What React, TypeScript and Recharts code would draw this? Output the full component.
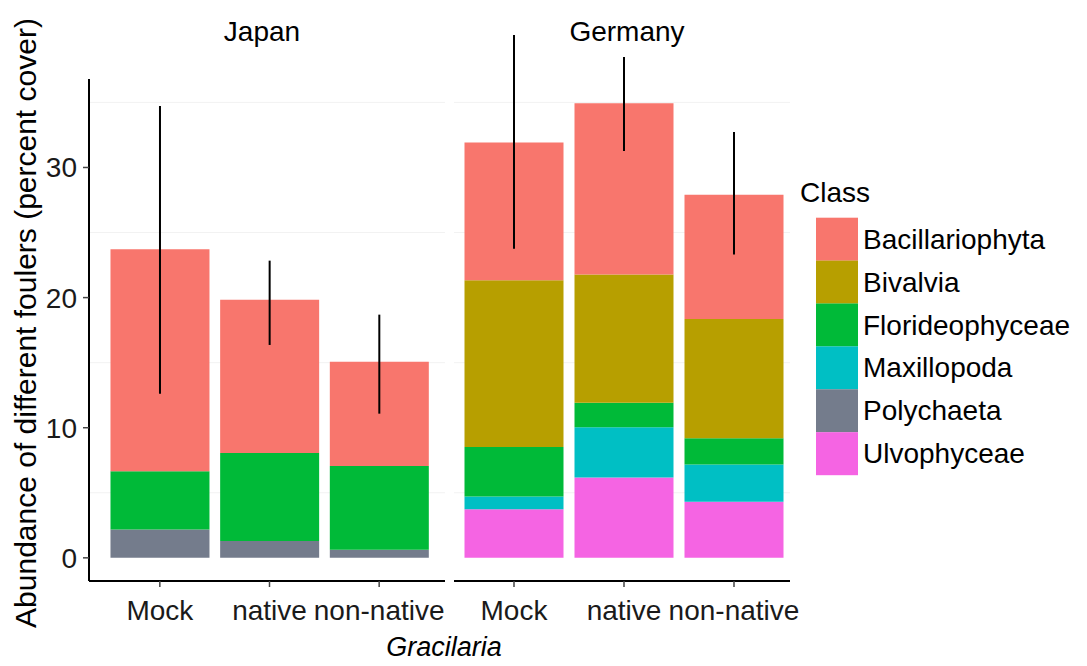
import { BarChart, Bar, XAxis, YAxis, CartesianGrid, ErrorBar } from 'recharts';

const classes = ['Bacillariophyta', 'Bivalvia', 'Florideophyceae', 'Maxillopoda', 'Polychaeta', 'Ulvophyceae'];
const classColors = ['#F8766D', '#B79F00', '#00BA38', '#00BFC4', '#747C8C', '#F564E3'];
const treatments = ['Mock', 'native', 'non-native'];

// cover per class (same order as classes), one value per treatment
const japanCover = [
  [17.05, 11.77, 8.01],
  [0, 0, 0],
  [4.49, 6.76, 6.43],
  [0, 0, 0],
  [2.17, 1.3, 0.63],
  [0, 0, 0],
];
const japanErrLow = [11.1, 3.47, 3.99];
const japanErrHigh = [11.02, 3.01, 3.62];

const germanyCover = [
  [10.59, 13.16, 9.56],
  [12.81, 9.85, 9.16],
  [3.8, 1.88, 2.01],
  [0.99, 3.86, 2.87],
  [0, 0, 0],
  [3.73, 6.18, 4.31],
];
const germanyErrLow = [8.16, 3.66, 4.59];
const germanyErrHigh = [8.27, 3.56, 4.82];

const yTicks = [0, 10, 20, 30];
const minorGrid = [5, 15, 25, 35];

const FONT = '"Liberation Sans", Arial, Helvetica, sans-serif';

function buildRows(cover: number[][], low: number[], high: number[]) {
  return treatments.map((t, i) => {
    const row: Record<string, any> = { treatment: t, err: [low[i], high[i]] };
    classes.forEach((c, k) => {
      row[c] = cover[k][i];
    });
    return row;
  });
}

const japanRows = buildRows(japanCover, japanErrLow, japanErrHigh);
const germanyRows = buildRows(germanyCover, germanyErrLow, germanyErrHigh);

// bottom of the stack first
const stackOrder = [...classes].reverse();

function renderBars() {
  return stackOrder.map((c) => {
    const color = classColors[classes.indexOf(c)];
    return (
      <Bar key={c} dataKey={c} stackId="a" fill={color} isAnimationActive={false}>
        {c === 'Bacillariophyta' && (
          <ErrorBar dataKey="err" width={0} stroke="#000" strokeWidth={2} direction="y" />
        )}
      </Bar>
    );
  });
}

const tickStyle = { fill: '#1a1a1a', fontSize: 28, fontFamily: FONT };

export default function App() {
  return (
    <div style={{ position: 'absolute', left: 0, top: 0, width: 1087, height: 666, background: '#fff', fontFamily: FONT }}>
      <div style={{ position: 'absolute', left: 0, top: 0 }}>
        <BarChart width={455} height={666} data={japanRows} margin={{ top: 79, right: 10, bottom: 0, left: 0 }} barCategoryGap="5%">
          <CartesianGrid vertical={false} horizontalValues={minorGrid} stroke="#f2f2f2" />
          <XAxis
            dataKey="treatment"
            height={85}
            interval={0}
            padding={{ left: 16, right: 11 }}
            axisLine={{ stroke: '#000', strokeWidth: 2 }}
            tickLine={{ stroke: '#444', strokeWidth: 1.5 }}
            tickSize={6}
            tickMargin={13}
            tick={tickStyle}
          />
          <YAxis
            type="number"
            width={89}
            domain={[-1.78, 36.8]}
            allowDataOverflow
            ticks={yTicks}
            axisLine={{ stroke: '#000', strokeWidth: 2 }}
            tickLine={{ stroke: '#444', strokeWidth: 1.5 }}
            tickSize={6}
            tickMargin={6}
            tick={tickStyle}
          />
          {renderBars()}
        </BarChart>
      </div>
      <div style={{ position: 'absolute', left: 0, top: 0 }}>
        <BarChart width={800} height={666} data={germanyRows} margin={{ top: 28, right: 10, bottom: 0, left: 454 }} barCategoryGap="5%">
          <CartesianGrid vertical={false} horizontalValues={minorGrid} stroke="#f2f2f2" />
          <XAxis
            dataKey="treatment"
            height={85}
            interval={0}
            padding={{ left: 5, right: 1 }}
            axisLine={{ stroke: '#000', strokeWidth: 2 }}
            tickLine={{ stroke: '#444', strokeWidth: 1.5 }}
            tickSize={6}
            tickMargin={13}
            tick={tickStyle}
          />
          <YAxis type="number" hide domain={[-1.78, 40.72]} allowDataOverflow ticks={yTicks} />
          {renderBars()}
        </BarChart>
      </div>
      <svg width={1087} height={666} style={{ position: 'absolute', left: 0, top: 0, pointerEvents: 'none' }} fontFamily={FONT}>
        <text x={262} y={41} textAnchor="middle" fontSize={28} fill="#000">Japan</text>
        <text x={627} y={41} textAnchor="middle" fontSize={28} fill="#000">Germany</text>
        <text x={444} y={656} textAnchor="middle" fontSize={27} fontStyle="italic" fill="#000">Gracilaria</text>
        <text x={36} y={323} textAnchor="middle" fontSize={30} fill="#000" transform="rotate(-90 36 323)">
          Abundance of different foulers (percent cover)
        </text>
        <text x={800} y={202} fontSize={28} fill="#000">Class</text>
        {classes.map((c, i) => (
          <g key={c}>
            <rect x={816} y={217.7 + i * 42.9} width={42} height={43} fill={classColors[i]} />
            <text x={863} y={217.7 + i * 42.9 + 31} fontSize={28} fill="#000">{c}</text>
          </g>
        ))}
      </svg>
    </div>
  );
}
